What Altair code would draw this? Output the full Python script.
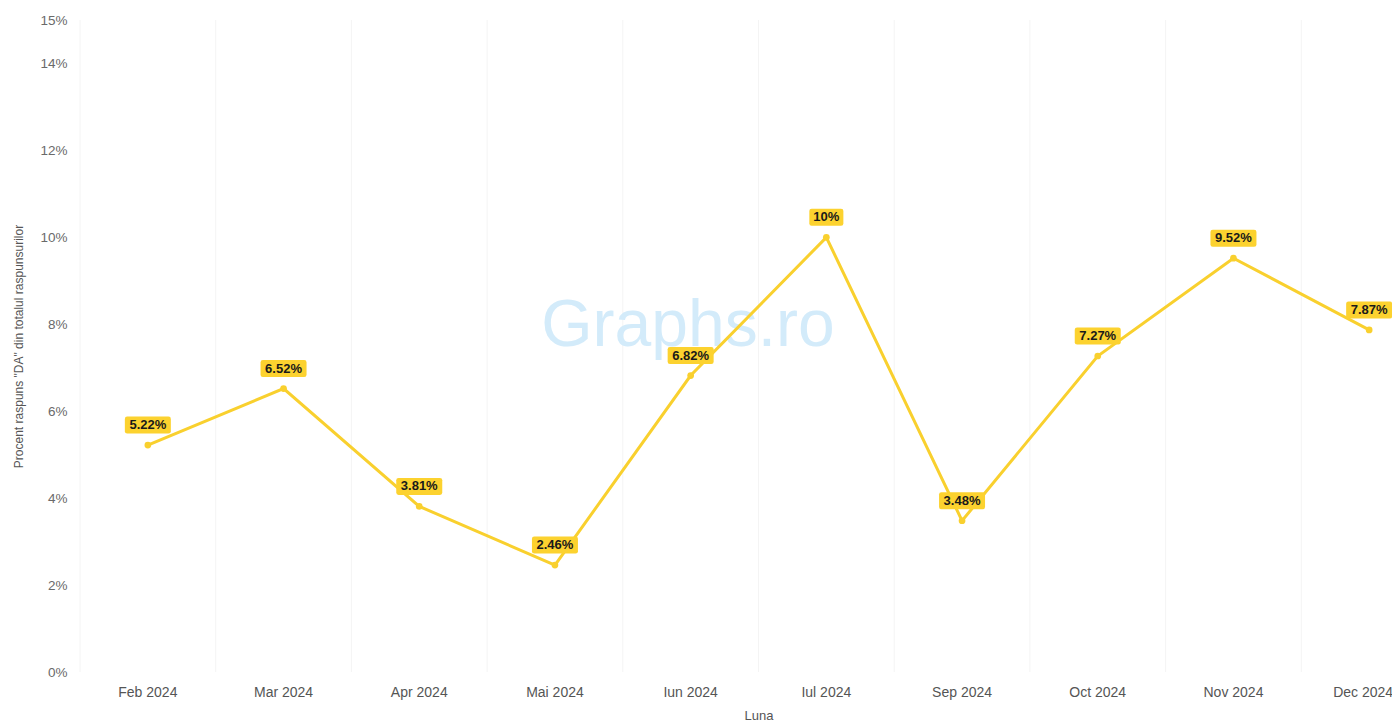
import altair as alt
import pandas as pd

months = ["Feb 2024", "Mar 2024", "Apr 2024", "Mai 2024", "Iun 2024",
          "Iul 2024", "Sep 2024", "Oct 2024", "Nov 2024", "Dec 2024"]
values = [5.22, 6.52, 3.81, 2.46, 6.82, 10, 3.48, 7.27, 9.52, 7.87]
labels = ["5.22%", "6.52%", "3.81%", "2.46%", "6.82%", "10%", "3.48%", "7.27%", "9.52%", "7.87%"]
y_ticks = [0, 2, 4, 6, 8, 10, 12, 14, 15]

df = pd.DataFrame({"luna": months, "val": values, "label": labels})

YELLOW = "#F9D02E"
FONT = "Liberation Sans"

x_scale = alt.Scale(domain=months, paddingInner=0, paddingOuter=0, range=[0, 1357])
y_scale = alt.Scale(domain=[0, 15], nice=False)

x_axis = alt.Axis(title="Luna", labelAngle=0, grid=False, ticks=False, domain=False,
                  labelFont=FONT, labelFontSize=14, labelFontWeight="normal",
                  labelColor="#555555",
                  labelOffset={"condition": {"test": "datum.value === 'Dec 2024'", "value": -6}, "value": 0},
                  labelPadding=13, titleFont=FONT, titleFontSize=13,
                  titleFontWeight="normal", titleColor="#555555", titlePadding=10)
x_enc = alt.X("luna:N", sort=months, scale=x_scale, axis=x_axis)
y_enc = alt.Y("val:Q", scale=y_scale,
              axis=alt.Axis(title='Procent raspuns "DA" din totalul raspunsurilor',
                            values=y_ticks, labelExpr="datum.value + '%'",
                            grid=False, ticks=False, domain=False,
                            labelFont=FONT, labelFontSize=13.5, labelColor="#6a6a6a",
                            labelPadding=13, titleFont=FONT, titleFontSize=12,
                            titleFontWeight="normal", titleColor="#555555", titlePadding=14))

base = alt.Chart(df)

grid = base.mark_rule(color="#f4f4f4", strokeWidth=1).encode(
    x=alt.X("luna:N", sort=months, scale=x_scale, bandPosition=0, axis=x_axis),
)

line = base.mark_line(color=YELLOW, strokeWidth=3).encode(x=x_enc, y=y_enc)
pts = base.mark_circle(color=YELLOW, size=45, opacity=1).encode(x=x_enc, y=y_enc)

box_wide = "M-0.9,-0.37 L0.9,-0.37 Q1,-0.37 1,-0.27 L1,0.27 Q1,0.37 0.9,0.37 L-0.9,0.37 Q-1,0.37 -1,0.27 L-1,-0.27 Q-1,-0.37 -0.9,-0.37 Z"
box_narrow = "M-0.64,-0.37 L0.64,-0.37 Q0.74,-0.37 0.74,-0.27 L0.74,0.27 Q0.74,0.37 0.64,0.37 L-0.64,0.37 Q-0.74,0.37 -0.74,0.27 L-0.74,-0.27 Q-0.74,-0.37 -0.64,-0.37 Z"

boxes = base.transform_calculate(
    box="length(datum.label) > 3 ? 'wide' : 'narrow'"
).mark_point(filled=True, opacity=1, color="#FCD22F", size=46 * 46, yOffset=-20, strokeWidth=0).encode(
    x=x_enc, y=y_enc,
    shape=alt.Shape("box:N", scale=alt.Scale(domain=["wide", "narrow"], range=[box_wide, box_narrow]),
                    legend=None),
)

texts = base.mark_text(font=FONT, fontSize=13, fontWeight="bold", color="#1a1a1a",
                       yOffset=-20, baseline="middle").encode(
    x=x_enc, y=y_enc, text="label:N")

watermark = alt.Chart(pd.DataFrame({"t": ["Graphs.ro"]})).mark_text(
    font=FONT, fontSize=66, color="#d3ebfa", baseline="middle", align="center"
).encode(x=alt.value(608), y=alt.value(306), text="t:N")

chart = alt.layer(grid, watermark, line, pts, boxes, texts).properties(
    width=1312, height=652,
    autosize=alt.AutoSizeParams(type="none"),
    padding={"left": 72, "top": 12, "right": 0, "bottom": 53},
).configure_view(stroke=None)

chart.save("out.html", embed_options={"renderer": "svg", "actions": False})
